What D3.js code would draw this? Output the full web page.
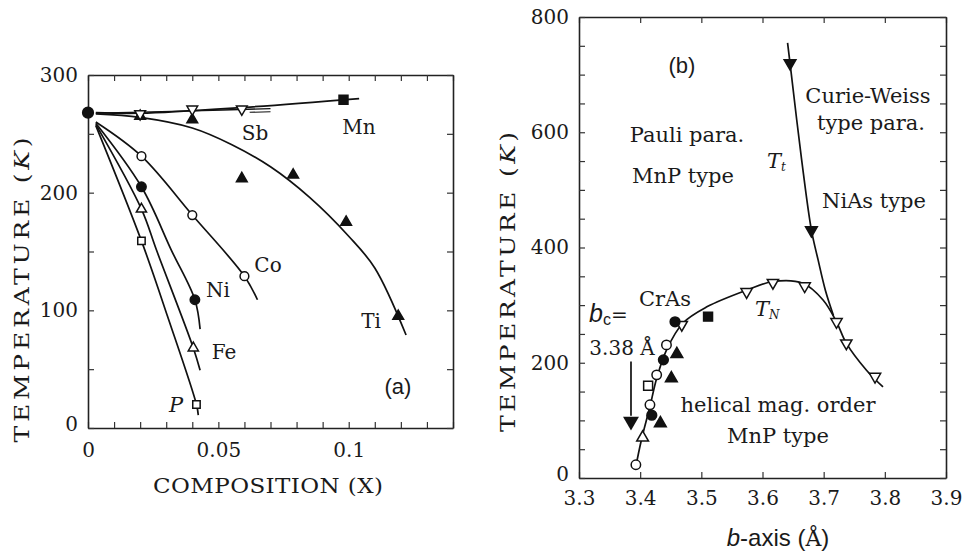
<!DOCTYPE html>
<html>
<head>
<meta charset="utf-8">
<script src="https://cdn.jsdelivr.net/npm/d3@7"></script>
<style>
  body { margin: 0; background: #fff; }
  text { fill: #1a1a1a; }
</style>
</head>
<body>
<div id="vis"></div>
<script>
const W = 965, H = 553;
const serif = "DejaVu Serif";
const sans = "Liberation Sans";

// ---- panel (a) data: composition x, temperature K
const origin = [[0, 268]];
const mnLine = [[0.003, 268], [0.02, 267.5], [0.06, 272.5], [0.104, 280]];
const sbLine = [[0.003, 267.5], [0.04, 269.5], [0.07, 271.5]];
const sbTail = [[0.062, 270], [0.07, 270.5]];
const tiLine = [[0.003, 267], [0.02, 264], [0.04, 255], [0.055, 241], [0.07, 222], [0.085, 196], [0.1, 163], [0.11, 136], [0.122, 79]];
const coLine = [[0.003, 260], [0.0205, 231], [0.04, 181], [0.06, 129], [0.065, 109]];
const niLine = [[0.003, 259], [0.0205, 205], [0.032, 151], [0.041, 109], [0.043, 84]];
const feLine = [[0.003, 258], [0.0205, 186], [0.0263, 151], [0.0404, 68], [0.043, 49]];
const pLine = [[0.003, 257], [0.0205, 159], [0.0305, 95], [0.0416, 20], [0.0423, 11]];
const mnPts = [[0.098, 279]];
const sbPts = [[0.02, 267], [0.04, 271], [0.059, 271]];
const tiPts = [[0.02, 265], [0.04, 262], [0.059, 212], [0.0787, 215], [0.099, 175], [0.119, 95]];
const coPts = [[0.0205, 231], [0.04, 181], [0.06, 129]];
const niPts = [[0.0205, 205], [0.041, 109]];
const fePts = [[0.0205, 186], [0.0404, 68]];
const pPts = [[0.0205, 159], [0.0416, 20]];
const aXTicks = [0, 0.05, 0.1];
const aYTicks = [0, 100, 200, 300];

// ---- panel (b) data: b-axis (Å), temperature K
const tnLine = [[3.392, 15], [3.402, 66], [3.416, 124], [3.427, 173], [3.443, 222], [3.470, 269], [3.509, 297], [3.574, 326], [3.617, 341], [3.666, 338], [3.699, 309], [3.721, 271], [3.737, 234], [3.770, 187], [3.797, 158]];
const ttLine = [[3.641, 755], [3.645, 720], [3.664, 552], [3.680, 430], [3.691, 378], [3.703, 325], [3.716, 282]];
const tnTri = [[3.468, 266], [3.574, 323], [3.617, 339], [3.669, 333], [3.721, 271], [3.737, 234], [3.784, 176]];
const ttTri = [[3.645, 720], [3.680, 430]];
const openCirc = [[3.393, 23], [3.416, 127], [3.427, 179], [3.443, 231]];
const fillCirc = [[3.419, 109], [3.438, 205], [3.457, 271]];
const fillSq = [[3.511, 280]];
const openSq = [[3.413, 160]];
const openTri = [[3.404, 70]];
const fillTri = [[3.46, 215], [3.451, 173], [3.433, 95]];
const bcArrow = [3.385, 202, 88];
const bXTicks = [3.3, 3.4, 3.5, 3.6, 3.7, 3.8, 3.9];
const bYTicks = [0, 200, 400, 600, 800];

const svg = d3.select("#vis").append("svg")
  .attr("width", W).attr("height", H)
  .style("font-family", serif);

// scales
const ax = d3.scaleLinear().domain([0, 0.14]).range([88, 453]);
const ay = d3.scaleLinear().domain([0, 300]).range([428, 75]);
const bx = d3.scaleLinear().domain([3.3, 3.9]).range([579, 946]);
const by = d3.scaleLinear().domain([0, 800]).range([478, 17]);

function frame(xs, ys, xMinor, yMinor, xLab, yLab, xFmt, xPad) {
  const [x0, x1] = xs.range(), [y0, y1] = ys.range();
  const fmtY = d => yLab.includes(d) ? d : "";
  const fmtX = d => xLab.some(v => Math.abs(v - d) < 1e-9) ? xFmt(d) : "";

  const gb = svg.append("g").attr("transform", `translate(0,${y0})`)
    .call(d3.axisBottom(xs).tickValues(xMinor).tickSizeInner(-6).tickSizeOuter(0).tickPadding(xPad).tickFormat(fmtX));
  const gt = svg.append("g").attr("transform", `translate(0,${y1})`)
    .call(d3.axisTop(xs).tickValues(xMinor).tickSizeInner(-6).tickSizeOuter(0).tickFormat(""));
  const gl = svg.append("g").attr("transform", `translate(${x0},0)`)
    .call(d3.axisLeft(ys).tickValues(yMinor).tickSizeInner(-6).tickSizeOuter(0).tickPadding(10).tickFormat(fmtY));
  const gr = svg.append("g").attr("transform", `translate(${x1},0)`)
    .call(d3.axisRight(ys).tickValues(yMinor).tickSizeInner(-6).tickSizeOuter(0).tickFormat(""));
  [gb, gt, gl, gr].forEach(g => {
    g.selectAll("path").attr("stroke", "#222").attr("stroke-width", 1.6);
    g.selectAll("line").attr("stroke", "#333").attr("stroke-width", 1.2);
    g.selectAll("text").attr("font-family", serif).attr("font-size", 20).attr("fill", "#1a1a1a");
  });
  // the origin label on the y axis sits a touch high so it clears the x labels
  gl.selectAll(".tick").filter(d => d === 0).select("text").attr("dy", "0.1em");
}

frame(ax, ay, d3.range(0, 0.1401, 0.01), d3.range(0, 301, 50), aXTicks, aYTicks,
  d => d === 0 ? "0" : d3.format("~g")(d), 15);
frame(bx, by, bXTicks, d3.range(0, 801, 50), bXTicks, bYTicks,
  d => d3.format(".1f")(d), 13);

// lines
function curve(data, xs, ys, w, dy) {
  svg.append("path").datum(data)
    .attr("fill", "none").attr("stroke", "#111").attr("stroke-width", w || 1.7)
    .attr("transform", dy ? `translate(0,${dy})` : null)
    .attr("d", d3.line().x(d => xs(d[0])).y(d => ys(d[1])).curve(d3.curveCatmullRom));
}
[mnLine, tiLine, coLine, niLine, feLine, pLine].forEach(l => curve(l, ax, ay));
curve(sbLine, ax, ay, 1.3);
curve(sbTail, ax, ay, 1.1, 2);
curve(tnLine, bx, by);
curve(ttLine, bx, by);

// markers
function marks(data, xs, ys, type, size, filled, rot) {
  svg.append("g").selectAll("path").data(data).join("path")
    .attr("d", d3.symbol().type(type).size(size))
    .attr("transform", d => `translate(${xs(d[0])},${ys(d[1])}) rotate(${rot || 0})`)
    .attr("fill", filled ? "#111" : "#fff")
    .attr("stroke", "#111").attr("stroke-width", 1.5);
}
marks(origin, ax, ay, d3.symbolCircle, 90, true);
marks(mnPts, ax, ay, d3.symbolSquare, 80, true);
marks(tiPts, ax, ay, d3.symbolTriangle, 50, true);
marks(sbPts, ax, ay, d3.symbolTriangle, 50, false, 180);
marks(coPts, ax, ay, d3.symbolCircle, 60, false);
marks(niPts, ax, ay, d3.symbolCircle, 70, true);
marks(fePts, ax, ay, d3.symbolTriangle, 45, false);
marks(pPts, ax, ay, d3.symbolSquare, 55, false);

marks(tnTri, bx, by, d3.symbolTriangle, 55, false, 180);
marks(ttTri, bx, by, d3.symbolTriangle, 60, true, 180);
marks(openCirc, bx, by, d3.symbolCircle, 70, false);
marks(fillCirc, bx, by, d3.symbolCircle, 75, true);
marks(fillSq, bx, by, d3.symbolSquare, 80, true);
marks(openSq, bx, by, d3.symbolSquare, 80, false);
marks(openTri, bx, by, d3.symbolTriangle, 60, false);
marks(fillTri, bx, by, d3.symbolTriangle, 60, true);

// b_c arrow
svg.append("line")
  .attr("x1", bx(bcArrow[0])).attr("x2", bx(bcArrow[0]))
  .attr("y1", by(bcArrow[1])).attr("y2", by(bcArrow[2] + 20))
  .attr("stroke", "#111").attr("stroke-width", 1.7);
svg.append("path")
  .attr("d", d3.symbol().type(d3.symbolTriangle).size(110))
  .attr("transform", `translate(${bx(bcArrow[0])},${by(bcArrow[2]) - 6}) rotate(180)`)
  .attr("fill", "#111");

// text helper
function label(x, y, str, size, opts = {}) {
  return svg.append("text").attr("x", x).attr("y", y)
    .attr("font-size", size)
    .attr("font-family", opts.family || serif)
    .attr("font-style", opts.italic ? "italic" : null)
    .attr("text-anchor", opts.anchor || "middle")
    .text(str);
}

// panel (a) labels
label(255, 140, "Sb", 20);
label(359, 134, "Mn", 20);
label(268, 272, "Co", 20);
label(218, 297, "Ni", 20);
label(224, 359, "Fe", 20);
label(176, 412, "P", 21, { italic: true });
label(371, 328, "Ti", 20);
label(398, 394, "(a)", 22, { family: sans });

// axis titles: the original face is wide, so stretch horizontally
function yTitle(x, y, len) {
  const t = svg.append("text")
    .attr("transform", `translate(${x},${y}) rotate(-90) scale(1.25,1)`)
    .attr("text-anchor", "middle").attr("font-size", 20)
    .attr("textLength", len / 1.25).attr("lengthAdjust", "spacing");
  t.append("tspan").text("TEMPERATURE (");
  t.append("tspan").attr("font-style", "italic").text("K");
  t.append("tspan").text(")");
}
yTitle(29, 290, 305);
yTitle(515, 282, 300);

svg.append("text")
  .attr("transform", "translate(268,493) scale(1.15,1)")
  .attr("text-anchor", "middle").attr("font-size", 20)
  .attr("textLength", 230 / 1.15).attr("lengthAdjust", "spacing")
  .text("COMPOSITION (X)");

// panel (b) labels
label(682, 73, "(b)", 22, { family: sans });
label(687, 142, "Pauli para.", 21);
label(683, 183, "MnP type", 21);
label(868, 103, "Curie-Weiss", 21);
label(871, 130, "type para.", 21);
label(874, 208, "NiAs type", 21);
label(665, 306, "CrAs", 21);
label(778, 412, "helical mag. order", 21);
label(778, 443, "MnP type", 21);
label(622, 355, "3.38 Å", 20);

const tt = svg.append("text").attr("x", 767).attr("y", 168).attr("font-size", 21).attr("font-style", "italic");
tt.append("tspan").text("T");
tt.append("tspan").attr("font-size", 12).attr("dy", 3).text("t");
const tn = svg.append("text").attr("x", 755).attr("y", 316).attr("font-size", 21).attr("font-style", "italic");
tn.append("tspan").text("T");
tn.append("tspan").attr("font-size", 12).attr("dy", 3).text("N");

const bc = svg.append("text").attr("x", 589).attr("y", 322).attr("font-size", 25);
bc.append("tspan").attr("font-family", sans).attr("font-style", "italic").text("b");
bc.append("tspan").attr("font-family", sans).attr("font-size", 16).attr("dy", 3).text("c");
bc.append("tspan").attr("font-size", 20).attr("dy", -3).text("=");

const bTitleX = svg.append("text").attr("x", 778).attr("y", 546)
  .attr("text-anchor", "middle").attr("font-size", 24).attr("font-family", sans);
bTitleX.append("tspan").attr("font-style", "italic").text("b");
bTitleX.append("tspan").text("-axis (");
bTitleX.append("tspan").attr("font-family", serif).attr("font-size", 22).text("Å");
bTitleX.append("tspan").text(")");
</script>
</body>
</html>
